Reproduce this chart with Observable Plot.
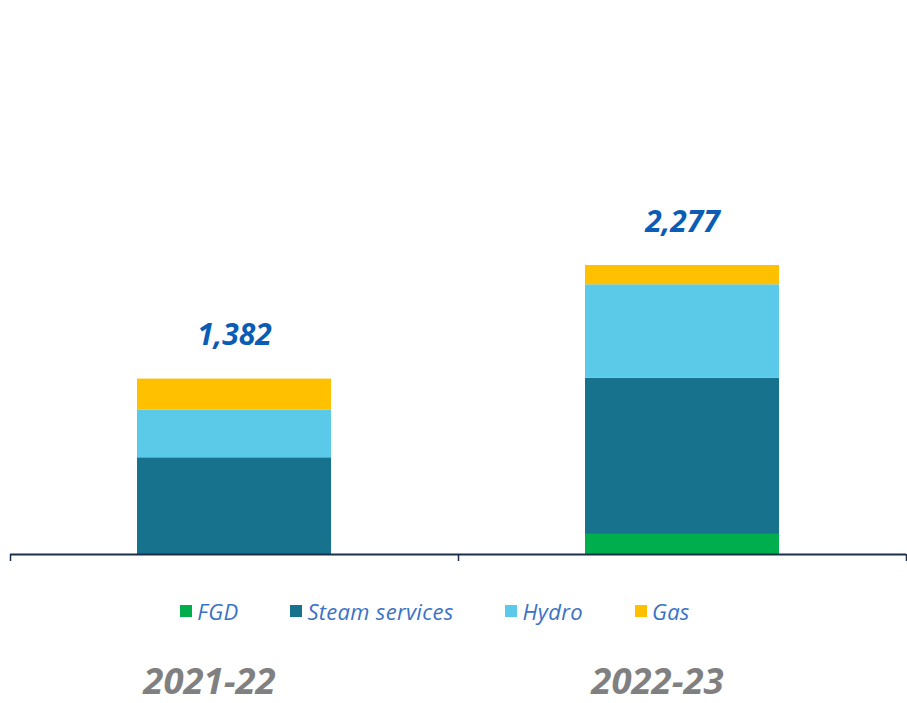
<!DOCTYPE html>
<html>
<head>
<meta charset="utf-8">
<script src="https://cdn.jsdelivr.net/npm/d3@7"></script>
<script src="https://cdn.jsdelivr.net/npm/@observablehq/plot@0.6"></script>
<style>
  html, body { margin: 0; padding: 0; background: #fff; }
  #wrap { position: relative; width: 907px; height: 703px; }
  #legend { position: absolute; left: 0; top: 597px; width: 907px; display: flex; justify-content: center; gap: 52px;
    font-family: "Open Sans", sans-serif; font-style: italic; font-size: 22px; letter-spacing: 0.3px; color: #3a72c6; line-height: 28px; padding-right: 37px; box-sizing: border-box; }
  #legend span.item { display: flex; align-items: center; }
  #legend span.sw { display: inline-block; width: 12px; height: 12px; margin-right: 5px; }
</style>
</head>
<body>
<div id="wrap"><div id="chart"></div><div id="legend"></div></div>
<script>
const years = ["2021-22", "2022-23"];
const series = ["FGD", "Steam services", "Hydro", "Gas"];
const colors = ["#00ae4d", "#17728d", "#5bc9e8", "#ffc000"];
const fgd = [0, 158];
const steam = [762, 1231];
const hydro = [375, 736];
const gas = [245, 152];
const totals = [1382, 2277];

const valuesBySeries = [fgd, steam, hydro, gas];
const rows = [];
years.forEach((yr, i) => {
  series.forEach((s, j) => rows.push({ i, year: yr, series: s, value: valuesBySeries[j][i] }));
});
const labels = years.map((yr, i) => ({ i, year: yr, total: totals[i] }));

const chart = Plot.plot({
  width: 907,
  height: 703,
  marginLeft: 10,
  marginRight: 1,
  marginTop: 265,
  marginBottom: 149,
  style: { fontFamily: "Open Sans, sans-serif", background: "transparent" },
  x: { type: "linear", domain: [0, years.length], axis: null, label: null },
  y: { domain: [0, d3.max(totals)], axis: null },
  color: { domain: series, range: colors },
  marks: [
    Plot.rectY(rows, Plot.stackY({ x1: "i", x2: d => d.i + 1, y: "value", fill: "series", order: series, insetLeft: 127, insetRight: 127 })),
    Plot.ruleY([0], { stroke: "#1b2f4b", strokeWidth: 2 }),
    Plot.axisX({ ticks: d3.range(years.length + 1), tickSize: 7, tickFormat: () => "", label: null, stroke: "#1b2f4b", strokeWidth: 1.5, anchor: "bottom" }),
    Plot.text(labels, { x: d => d.i + 0.5, y: "total", text: d => d3.format(",")(d.total), dy: -34, lineAnchor: "bottom",
      fill: "#0b5cb5", fontSize: 30, fontWeight: "bold", fontStyle: "italic" }),
    Plot.text(labels, { x: d => d.i + 0.5, y: () => 0, text: "year", dy: 139, dx: -25, lineAnchor: "bottom",
      fill: "#808080", fontSize: 36.5, fontWeight: "bold", fontStyle: "italic" })
  ]
});
document.getElementById("chart").appendChild(chart);

const legend = document.getElementById("legend");
series.forEach((s, j) => {
  const item = document.createElement("span");
  item.className = "item";
  const sw = document.createElement("span");
  sw.className = "sw";
  sw.style.background = colors[j];
  item.appendChild(sw);
  item.appendChild(document.createTextNode(s));
  legend.appendChild(item);
});
</script>
</body>
</html>
